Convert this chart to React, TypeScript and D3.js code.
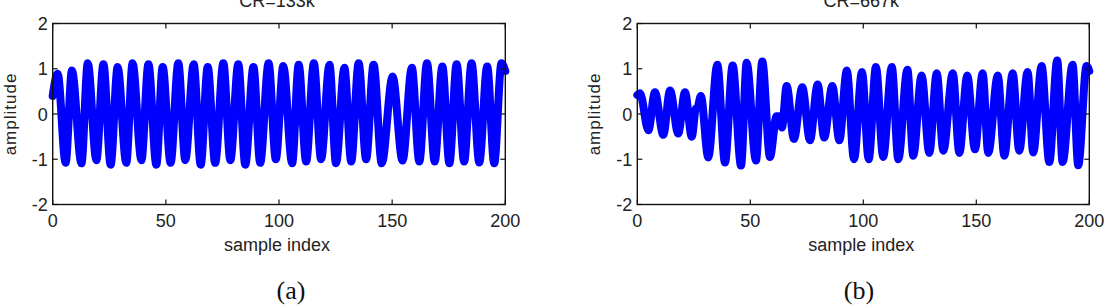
import React, {useEffect, useRef} from "react";
import * as d3 from "d3";

const WIDTH = 1110;
const HEIGHT = 306;

const xTicks = [0, 50, 100, 150, 200];
const yTicks = [-2, -1, 0, 1, 2];
const titles = ["CR=133k", "CR=667k"];
const captions = ["(a)", "(b)"];
const xLabel = "sample index";
const yLabel = "amplitude";

// peaks / troughs: [sample index, amplitude]
const waveA: [number, number][] = [
  [0, 0.4], [2.2, 0.89], [5.7, -1.08], [8.5, 0.96], [12.7, -1.09], [15.5, 1.12],
  [19.3, -1.02], [22.4, 1.1], [25.6, -1.12], [28.7, 1.04], [32.5, -1.08], [35.3, 1.12],
  [39.2, -1.02], [42.3, 1.1], [45.8, -1.12], [48.6, 1.04], [52.1, -1.08], [55.5, 1.12],
  [58.6, -1.02], [62.3, 1.1], [65.4, -1.12], [68.5, 1.04], [71.8, -1.08], [75.4, 1.12],
  [78.5, -1.02], [82, 1.1], [85.1, -1.12], [88.7, 1.04], [91.7, -1.08], [95.4, 1.12],
  [98.6, -1.0], [101.9, 1.06], [105.8, -1.09], [108.7, 1.09], [112, -1.05], [115.4, 1.12],
  [118.6, -1.0], [122.3, 1.09], [125.2, -1.09], [128.9, 1.02], [131.9, -1.05], [135.2, 1.12],
  [138.5, -1.0], [141.8, 1.09], [145.4, -1.09], [150.2, 0.83], [154.6, -1.03], [158.7, 1.02],
  [162, -1.05], [165.4, 1.12], [168.8, -1.05], [172.2, 1.05], [175.3, -1.09], [178.5, 1.1],
  [181.8, -1.05], [185.1, 1.12], [188.5, -1.07], [192, 1.05], [195.1, -1.09], [198.3, 1.12],
  [200, 0.95],
];

// peaks / troughs
const waveB: [number, number][] = [
  [0, 0.42], [1.2, 0.46], [4.9, -0.36], [7.8, 0.48], [11.5, -0.46], [14.5, 0.52],
  [18.1, -0.43], [21.1, 0.48], [24.1, -0.5], [25.9, 0.12], [26.7, 0.15], [28.1, 0.4],
  [31.4, -0.96], [35.4, 1.09], [38.8, -1.07], [42.2, 1.07], [45.9, -1.14], [48.4, 1.13],
  [52.5, -1.03], [55.3, 1.16], [58.7, -0.95], [61.6, -0.05], [62.6, -0.05], [64, -0.3],
  [66.1, 0.62], [69.3, -0.55], [73, 0.59], [76.4, -0.58], [79.8, 0.65], [82.7, -0.52],
  [86.3, 0.62], [89.4, -0.58], [92.7, 0.96], [95.9, -1.0], [99.4, 0.93], [102.4, -1.0],
  [105.6, 1.04], [108.8, -0.95], [112.6, 1.04], [115.5, -1.0], [119.5, 0.98], [122.1, -0.92],
  [125.8, 0.85], [129.2, -0.86], [132.5, 0.9], [135.4, -0.81], [139.6, 0.9], [142.5, -0.86],
  [146, 0.85], [149.4, -0.78], [152.8, 0.9], [155.3, -0.86], [159.5, 0.85], [162.4, -0.92],
  [166.1, 0.9], [169, -0.81], [172.7, 0.93], [175.2, -0.85], [178.9, 1.06], [182.3, -1.06],
  [185.8, 1.18], [188.2, -1.06], [192.6, 1.09], [195.1, -1.13], [198.8, 1.06], [200, 0.95],
];

const waves = [waveA, waveB];

// where each axes box sits on the page
const boxes = [
  {left: 52.7, right: 505.3, captionX: 291},
  {left: 637.3, right: 1089.3, captionX: 859},
];
const TOP = 23.5;
const BOTTOM = 204.5;
const TICK = 5;
const SANS = "'Liberation Sans', Arial, Helvetica, sans-serif";

function drawPanel(svg: any, i: number) {
  const box = boxes[i];
  const x = d3.scaleLinear().domain([0, 200]).range([box.left, box.right]);
  const y = d3.scaleLinear().domain([-2, 2]).range([BOTTOM, TOP]);
  const g = svg.append("g");

  // the signal
  const line = d3
    .line<[number, number]>()
    .x((d) => x(d[0]))
    .y((d) => y(d[1]))
    .curve(d3.curveMonotoneX);
  g.append("path")
    .datum(waves[i])
    .attr("d", line)
    .attr("fill", "none")
    .attr("stroke", "#0000ff")
    .attr("stroke-width", 8)
    .attr("stroke-linejoin", "round")
    .attr("stroke-linecap", "round");

  // box
  g.append("rect")
    .attr("x", box.left)
    .attr("y", TOP)
    .attr("width", box.right - box.left)
    .attr("height", BOTTOM - TOP)
    .attr("fill", "none")
    .attr("stroke", "#111")
    .attr("stroke-width", 1.4);

  // inward ticks on all four sides
  xTicks.forEach((t) => {
    g.append("line").attr("x1", x(t)).attr("x2", x(t)).attr("y1", BOTTOM).attr("y2", BOTTOM - TICK)
      .attr("stroke", "#111").attr("stroke-width", 1.2);
    g.append("line").attr("x1", x(t)).attr("x2", x(t)).attr("y1", TOP).attr("y2", TOP + TICK)
      .attr("stroke", "#111").attr("stroke-width", 1.2);
    g.append("text").attr("x", x(t)).attr("y", 227).attr("text-anchor", "middle")
      .attr("font-family", SANS).attr("font-size", 18).attr("fill", "#222").text(t);
  });
  yTicks.forEach((t) => {
    g.append("line").attr("x1", box.left).attr("x2", box.left + TICK).attr("y1", y(t)).attr("y2", y(t))
      .attr("stroke", "#111").attr("stroke-width", 1.2);
    g.append("line").attr("x1", box.right).attr("x2", box.right - TICK).attr("y1", y(t)).attr("y2", y(t))
      .attr("stroke", "#111").attr("stroke-width", 1.2);
    g.append("text").attr("x", box.left - 5).attr("y", y(t) + 6.5).attr("text-anchor", "end")
      .attr("font-family", SANS).attr("font-size", 18).attr("fill", "#222").text(String(t));
  });

  const mid = (box.left + box.right) / 2;
  g.append("text").attr("x", mid - 2).attr("y", 6.5).attr("text-anchor", "middle")
    .attr("font-family", SANS).attr("font-size", 18).attr("fill", "#222").text(titles[i]);
  g.append("text").attr("x", mid - 2).attr("y", 250.5).attr("text-anchor", "middle")
    .attr("font-family", SANS).attr("font-size", 18).attr("fill", "#222").text(xLabel);
  g.append("text")
    .attr("transform", `translate(${box.left - 37},${(TOP + BOTTOM) / 2}) rotate(-90)`)
    .attr("text-anchor", "middle")
    .attr("font-family", SANS).attr("font-size", 17).attr("letter-spacing", 1)
    .attr("fill", "#222").text(yLabel);
  g.append("text").attr("x", box.captionX).attr("y", 299).attr("text-anchor", "middle")
    .attr("font-family", "'Liberation Serif', 'Times New Roman', serif").attr("font-size", 26)
    .attr("fill", "#111").text(captions[i]);
}

export default function App() {
  const ref = useRef<SVGSVGElement>(null);

  useEffect(() => {
    if (!ref.current) return;
    const svg = d3.select(ref.current);
    svg.selectAll("*").remove();
    svg.append("rect").attr("width", WIDTH).attr("height", HEIGHT).attr("fill", "#fff");
    drawPanel(svg, 0);
    drawPanel(svg, 1);
  }, []);

  return (
    <svg
      ref={ref}
      width={WIDTH}
      height={HEIGHT}
      style={{position: "absolute", left: 0, top: 0, display: "block"}}
    />
  );
}
